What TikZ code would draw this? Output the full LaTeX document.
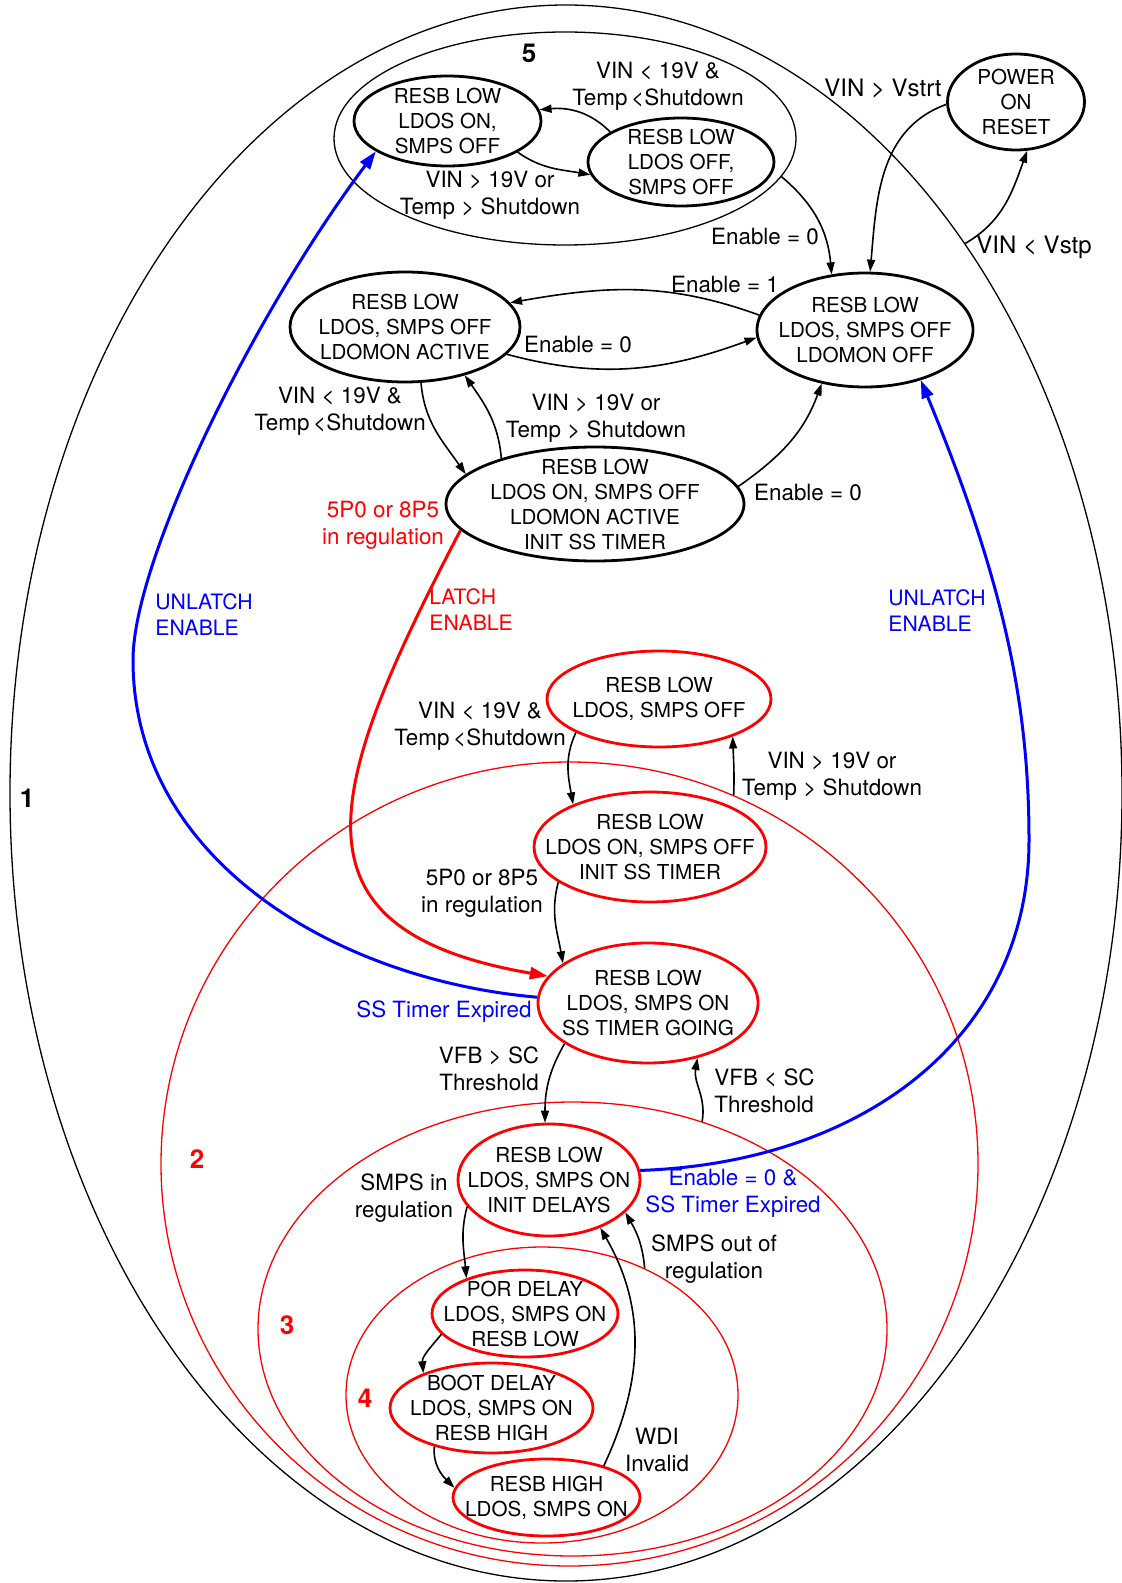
\documentclass[tikz,border=0pt]{standalone}
\usepackage{fontspec}
\setmainfont{TeX Gyre Heros}
\usetikzlibrary{positioning, shapes.geometric, arrows.meta, calc}

\begin{document}
\begin{tikzpicture}[
                x=0.5pt, y=-0.5pt,
                region/.style 2 args={draw=black, line width=0.65pt, ellipse, inner sep=0pt, minimum width=#1pt, minimum height=#2pt},
                redregion/.style 2 args={region={#1}{#2}, draw=red},
                blackstate/.style 2 args={draw=black, line width=1.4pt, ellipse, inner sep=0pt, minimum width=#1pt, minimum height=#2pt},
                redstate/.style 2 args={blackstate={#1}{#2}, draw=red},
                statetext/.style={align=center, inner sep=0pt, font=\fontsize{10.3}{12.5}\selectfont},
                trans/.style={draw=black, line width=0.8pt, -{Triangle[length=6pt, width=4pt]}},
                bluetrans/.style={draw=blue, line width=1.5pt, -{Triangle[length=9pt, width=6pt]}},
                redtrans/.style={draw=red, line width=1.5pt, -{Triangle[length=9pt, width=6pt]}},
                translabel/.style={align=center, inner sep=0pt, font=\fontsize{11.2}{13.5}\selectfont},
                biglabel/.style={translabel, font=\fontsize{12}{14}\selectfont},
                bluelabel/.style={translabel, text=blue},
                redlabel/.style={translabel, text=red},
                latchlabel/.style={translabel, align=left, anchor=west, font=\fontsize{10.6}{13}\selectfont},
                regionlabel/.style={inner sep=0pt, font=\fontsize{13}{15}\selectfont\bfseries}
            ]
            \useasboundingbox (0,0) rectangle (1121,1583);

            % Bereiche
            \node[region={556}{788}] (reg1) at (566,793) {};
            \node[region={231}{106.5}] (reg5) at (565,138.5) {};
            \node[redregion={408.5}{402}] (reg2) at (569.5,1164) {};
            \node[redregion={314.5}{227}] (reg3) at (572.5,1329) {};
            \node[redregion={196}{148}] (reg4) at (542,1395) {};

            % Zustaende
            \node[blackstate={68.5}{48}, label={[statetext]center:POWER\\ON\\RESET}] (por) at (1016,102) {};
            \node[blackstate={93.5}{45}, label={[statetext]center:RESB LOW\\LDOS ON,\\SMPS OFF}] (ldoon) at (447.5,121) {};
            \node[blackstate={93}{44}, label={[statetext]center:RESB LOW\\LDOS OFF,\\SMPS OFF}] (ldooff) at (681,162) {};
            \node[blackstate={108}{57}, label={[statetext]center:RESB LOW\\LDOS, SMPS OFF\\LDOMON OFF}] (monoff) at (865,330) {};
            \node[blackstate={115}{55}, label={[statetext]center:RESB LOW\\LDOS, SMPS OFF\\LDOMON ACTIVE}] (monact) at (405,327) {};
            \node[blackstate={149}{57}, label={[statetext]center:RESB LOW\\LDOS ON, SMPS OFF\\LDOMON ACTIVE\\INIT SS TIMER}] (ssinit) at (595,504) {};
            \node[redstate={112}{48}, label={[statetext]center:RESB LOW\\LDOS, SMPS OFF}] (latchoff) at (659,699) {};
            \node[redstate={116}{55}, label={[statetext]center:RESB LOW\\LDOS ON, SMPS OFF\\INIT SS TIMER}] (latchinit) at (650,847) {};
            \node[redstate={110}{60}, label={[statetext]center:RESB LOW\\LDOS, SMPS ON\\SS TIMER GOING}] (ssgo) at (648,1003) {};
            \node[redstate={91}{56}, label={[statetext]center:RESB LOW\\LDOS, SMPS ON\\INIT DELAYS}] (initdel) at (549,1180) {};
            \node[redstate={93}{43.5}, label={[statetext]center:POR DELAY\\LDOS, SMPS ON\\RESB LOW}] (pordel) at (525,1313.5) {};
            \node[redstate={101.5}{45}, label={[statetext]center:BOOT DELAY\\LDOS, SMPS ON\\RESB HIGH}] (bootdel) at (491.5,1408) {};
            \node[redstate={93.5}{38.5}, label={[statetext]center:RESB HIGH\\LDOS, SMPS ON}] (resbhigh) at (546.5,1497.5) {};

            % Uebergaenge
            \draw[trans] (ldooff.157) to[out=135, in=5] (ldoon.7);
            \draw[trans] (ldoon.-24) to[out=-35, in=170] (ldooff.188);
            \draw[trans] (por.182) to[out=200, in=85] (monoff.85);
            \draw[trans] (reg1.54) to[out=30, in=-110] (por.-77);
            \draw[trans] (reg5.-10) to[out=-40, in=95] (monoff.121);
            \draw[trans] (monoff.172) to[out=160, in=10] (monact.13);
            \draw[trans] (monact.-15) to[out=-15, in=200] (monoff.-176);
            \draw[trans] (monact.-74) to[out=-85, in=125] (ssinit.167);
            \draw[trans] (ssinit.154) to[out=95, in=-55] (monact.-39);
            \draw[trans] (ssinit.7) to[out=35, in=-110] (monoff.-129);
            \draw[redtrans] (ssinit.-169) .. controls (325,790) and (280,930) .. (ssgo.165);
            \draw[bluetrans] (ssgo.177) .. controls (337,980) and (133,860) .. (133,660) .. controls (133,560) and (253,315) .. (ldoon.203);
            \draw[bluetrans] (initdel.6) .. controls (860,1163) and (1029,1040) .. (1029,840) .. controls (1029,700) and (1002,577) .. (monoff.-42);
            \draw[trans] (latchoff.-158) to[out=-115, in=100] (latchinit.151);
            \draw[trans] (reg2.66) to[out=88, in=-88] (latchoff.-27);
            \draw[trans] (latchinit.-159) to[out=-105, in=100] (ssgo.155);
            \draw[trans] (ssgo.-154) to[out=-120, in=90] (initdel.94);
            \draw[trans] (reg3.58) to[out=80, in=-100] (ssgo.-48);
            \draw[trans] (initdel.-162) to[out=-105, in=95] (pordel.149);
            \draw[trans] (reg4.51) to[out=95, in=-60] (initdel.-23);
            \draw[trans] (pordel.-166) to[out=-130, in=95] (bootdel.153);
            \draw[trans] (bootdel.-146) to[out=-95, in=135] (resbhigh.174);
            \draw[trans] (resbhigh.29) to[out=65, in=-60] (initdel.-43);

            % Beschriftungen
            \node[translabel] (offon) at (658,86.5) {VIN < 19V \&\\Temp\,<Shutdown};
            \node[translabel] (onoff) at (490,195) {VIN > 19V or\\Temp > Shutdown};
            \node[biglabel] (vstrt) at (883,89) {VIN > Vstrt};
            \node[biglabel] (vstp) at (1034,247) {VIN < Vstp};
            \node[translabel] (entop) at (765,237) {Enable = 0};
            \node[translabel] (enone) at (725,285) {Enable = 1};
            \node[translabel] (enmid) at (578,345) {Enable = 0};
            \node[translabel] (actinit) at (340,411.5) {VIN < 19V \&\\Temp\,<Shutdown};
            \node[translabel] (initact) at (596,418.5) {VIN > 19V or\\Temp > Shutdown};
            \node[translabel] (enlow) at (808,493) {Enable = 0};
            \node[redlabel] (latchreg) at (383,525) {5P0 or 8P5\\in regulation};
            \node[latchlabel, text=red] (latch) at (429,609.5) {LATCH\\ENABLE};
            \node[latchlabel, text=blue] (unlatchl) at (155,614.5) {UNLATCH\\ENABLE};
            \node[latchlabel, text=blue] (unlatchr) at (888,610.5) {UNLATCH\\ENABLE};
            \node[translabel] (offinit) at (480,726.5) {VIN < 19V \&\\Temp\,<Shutdown};
            \node[translabel] (initoff) at (832,776.5) {VIN > 19V or\\Temp > Shutdown};
            \node[translabel] (initgo) at (482,893.5) {5P0 or 8P5\\in regulation};
            \node[bluelabel, anchor=east] (ssexp) at (532,1012) {SS Timer Expired};
            \node[translabel] (vfbhi) at (489,1068.5) {VFB > SC\\Threshold};
            \node[translabel, align=left, anchor=west] (vfblo) at (714,1090.5) {VFB < SC\\Threshold};
            \node[bluelabel] (enexp) at (733,1193) {Enable = 0 \&\\SS Timer Expired};
            \node[translabel] (smpsin) at (404,1198) {SMPS in\\regulation};
            \node[translabel] (smpsout) at (714,1259) {SMPS out of\\regulation};
            \node[translabel] (wdi) at (657,1450) {WDI\\Invalid};
            \node[regionlabel] (num1) at (27,798) {1};
            \node[regionlabel, text=red] (num2) at (197,1159) {2};
            \node[regionlabel, text=red] (num3) at (287,1325) {3};
            \node[regionlabel, text=red] (num4) at (365,1398) {4};
            \node[regionlabel] (num5) at (529,53) {5};

        \end{tikzpicture}
\end{document}
